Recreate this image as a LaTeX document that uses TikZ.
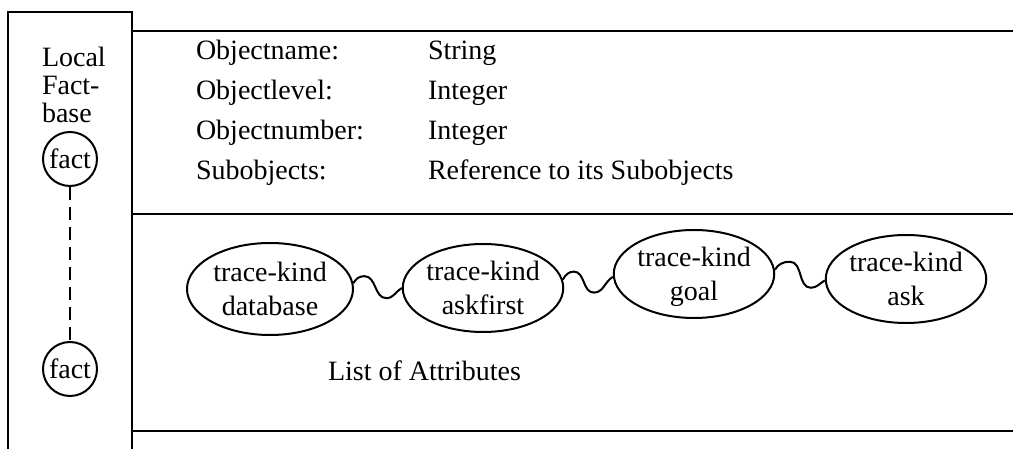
\documentclass[tikz,border=0pt]{standalone}
\usepackage{fontspec}
\setmainfont{Liberation Serif}
\usetikzlibrary{shapes.geometric, positioning}

\begin{document}
\begin{tikzpicture}[
  x=0.5pt, y=0.5pt,
  line width=1pt,
  font=\fontsize{14pt}{14pt}\selectfont,
  txt/.style={anchor=base west, inner sep=0pt},
  factnode/.style={circle, draw, minimum size=27pt, inner sep=0pt},
  trace/.style={ellipse, draw, minimum width=79pt, minimum height=44pt,
              inner sep=0pt, align=center, text depth=0pt,
              font=\fontsize{14pt}{17pt}\selectfont}
]
\useasboundingbox (0,0) rectangle (1013,449);

% Local factbase column
\draw (8,0) -- (8,437) -- (132,437) -- (132,0);
\node[anchor=north west, inner sep=0pt, align=left] (localfb) at (41,403) {Local\\Fact-\\base};
\node[factnode] (fact1) at (70,290) {fact};
\node[factnode, below=77pt of fact1] (fact2) {fact};
\draw[dash pattern=on 6.5pt off 3.5pt] (fact1) -- (fact2);

% object frame
\draw (132,418) -- (1013,418);
\draw (132,235) -- (1013,235);
\draw (132,18) -- (1013,18);

% object slots
\node[txt] (oname) at (195,389) {Objectname:};
\node[txt] (olevel) at (195,349) {Objectlevel:};
\node[txt] (onumber) at (195,309) {Objectnumber:};
\node[txt] (osub) at (195,269) {Subobjects:};
\node[txt] (vname) at (427,389) {String};
\node[txt] (vlevel) at (427,349) {Integer};
\node[txt] (vnumber) at (427,309) {Integer};
\node[txt] (vsub) at (427,269) {Reference to its Subobjects};

% attribute list
\node[trace, minimum width=83pt, minimum height=46pt] (database) at (270,160) {trace-kind\\database};
\node[trace] (askfirst) at (483,161) {trace-kind\\askfirst};
\node[trace] (goal) at (694,175) {trace-kind\\goal};
\node[trace] (ask) at (906,170) {trace-kind\\ask};
\node[txt] (attrs) at (327,68) {List of Attributes};

% wavy links
\draw (database.4) to[out=60,in=180] ++(11,7) to[out=0,in=180] ++(22,-22) to[out=0,in=210] (askfirst.west);
\draw (askfirst.6) to[out=60,in=180] ++(11,8) to[out=0,in=180] ++(20,-21) to[out=0,in=210] (goal.182);
\draw (goal.3) to[out=60,in=180] ++(15,8) to[out=0,in=180] ++(21,-26) to[out=0,in=210] (ask.181);
\end{tikzpicture}
\end{document}
